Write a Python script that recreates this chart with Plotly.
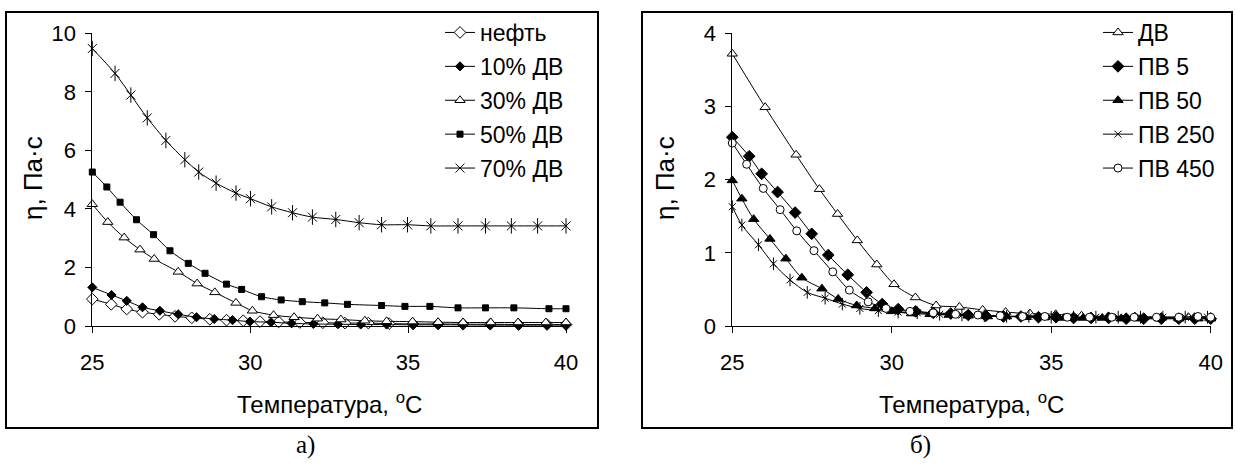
import plotly.graph_objects as go

# ---------------- Chart a) ----------------
oil_t = [25, 25.6, 26.09, 26.59, 27.12, 27.62, 28.15, 28.72, 29.25, 29.78, 30.31, 30.9, 31.57, 32.3, 33.0, 33.74, 34.4, 35.16, 35.95, 36.74, 37.6, 38.5, 39.4, 40]
oil_v = [0.92, 0.74, 0.58, 0.47, 0.40, 0.33, 0.28, 0.23, 0.20, 0.18, 0.15, 0.14, 0.12, 0.11, 0.10, 0.10, 0.08, 0.07, 0.07, 0.06, 0.06, 0.05, 0.05, 0.05]

dv10_t = [25, 25.61, 26.09, 26.59, 27.14, 27.72, 28.3, 28.86, 29.44, 29.99, 30.66, 31.31, 32.0, 32.78, 33.5, 34.32, 35.16, 35.95, 36.74, 37.6, 38.5, 39.4, 40]
dv10_v = [1.32, 1.06, 0.86, 0.64, 0.52, 0.40, 0.30, 0.24, 0.20, 0.15, 0.13, 0.09, 0.07, 0.06, 0.05, 0.05, 0.04, 0.04, 0.04, 0.03, 0.03, 0.03, 0.03]

dv30_t = [25, 25.49, 26.01, 26.51, 26.96, 27.72, 28.32, 28.88, 29.55, 30.07, 30.74, 31.39, 32.13, 32.87, 33.63, 34.32, 35.14, 35.95, 36.74, 37.62, 38.48, 39.36, 40]
dv30_v = [4.16, 3.55, 3.02, 2.61, 2.29, 1.85, 1.45, 1.15, 0.79, 0.52, 0.37, 0.30, 0.25, 0.22, 0.18, 0.16, 0.15, 0.13, 0.12, 0.12, 0.12, 0.12, 0.12]

dv50_t = [25, 25.46, 25.88, 26.4, 26.94, 27.46, 28.04, 28.57, 29.25, 29.73, 30.36, 30.98, 31.65, 32.36, 33.08, 34.16, 34.9, 35.69, 36.58, 37.45, 38.35, 39.46, 40]
dv50_v = [5.26, 4.75, 4.23, 3.63, 3.12, 2.57, 2.14, 1.80, 1.43, 1.25, 1.00, 0.89, 0.83, 0.79, 0.74, 0.70, 0.67, 0.67, 0.62, 0.62, 0.62, 0.59, 0.59]

dv70_t = [25, 25.72, 26.22, 26.74, 27.33, 27.93, 28.37, 28.92, 29.55, 30.01, 30.68, 31.34, 31.97, 32.71, 33.45, 34.16, 34.98, 35.72, 36.58, 37.45, 38.27, 39.1, 40]
dv70_v = [9.48, 8.63, 7.89, 7.11, 6.34, 5.68, 5.26, 4.88, 4.54, 4.35, 4.07, 3.87, 3.72, 3.64, 3.53, 3.46, 3.46, 3.42, 3.42, 3.42, 3.42, 3.42, 3.42]

# ---------------- Chart б) ----------------
dv_t = [25, 26.03, 27.0, 27.73, 28.3, 28.92, 29.53, 30.07, 30.74, 31.39, 32.12, 32.85, 33.57, 34.33, 35.14, 35.95, 36.79, 37.62, 38.46, 39.3, 40]
dv_v = [3.72, 2.99, 2.34, 1.87, 1.53, 1.17, 0.84, 0.57, 0.39, 0.28, 0.26, 0.22, 0.19, 0.17, 0.16, 0.14, 0.13, 0.13, 0.12, 0.12, 0.12]

pv5_t = [25, 25.53, 25.92, 26.42, 26.97, 27.49, 28.01, 28.62, 29.21, 29.7, 30.2, 30.75, 31.3, 31.85, 32.4, 32.95, 33.5, 34.05, 34.6, 35.15, 35.7, 36.25, 36.8, 37.35, 37.9, 38.45, 39.0, 39.5, 40]
pv5_v = [2.58, 2.32, 2.08, 1.83, 1.55, 1.26, 0.97, 0.70, 0.46, 0.30, 0.23, 0.20, 0.18, 0.17, 0.15, 0.14, 0.13, 0.13, 0.12, 0.12, 0.11, 0.11, 0.11, 0.10, 0.10, 0.10, 0.10, 0.10, 0.10]

pv50_t = [25, 25.3, 25.67, 26.18, 26.68, 27.18, 27.81, 28.32, 28.9, 29.47, 30.0, 30.62, 31.2, 31.8, 32.4, 33.0, 33.6, 34.2, 34.8, 35.4, 36.0, 36.6, 37.2, 37.8, 38.4, 39.0, 39.6, 40]
pv50_v = [1.99, 1.74, 1.46, 1.19, 0.92, 0.66, 0.51, 0.37, 0.28, 0.24, 0.20, 0.17, 0.16, 0.15, 0.14, 0.13, 0.13, 0.12, 0.12, 0.11, 0.11, 0.11, 0.10, 0.10, 0.10, 0.10, 0.10, 0.10]

pv250_t = [25, 25.3, 25.82, 26.29, 26.81, 27.35, 27.91, 28.45, 29.0, 29.58, 30.2, 30.8, 31.5, 32.2, 32.9, 33.6, 34.3, 35.0, 35.7, 36.4, 37.1, 37.8, 38.5, 39.2, 39.9]
pv250_v = [1.63, 1.38, 1.11, 0.85, 0.63, 0.46, 0.38, 0.30, 0.24, 0.21, 0.19, 0.18, 0.16, 0.15, 0.14, 0.13, 0.13, 0.12, 0.12, 0.12, 0.12, 0.12, 0.12, 0.12, 0.12]

pv450_t = [25, 25.45, 25.97, 26.5, 27.02, 27.56, 28.15, 28.67, 29.26, 29.82, 30.57, 31.3, 32.0, 32.7, 33.4, 34.1, 34.8, 35.5, 36.2, 36.9, 37.6, 38.3, 39.0, 39.6, 40]
pv450_v = [2.50, 2.21, 1.88, 1.59, 1.30, 1.03, 0.74, 0.49, 0.33, 0.24, 0.20, 0.18, 0.16, 0.15, 0.14, 0.13, 0.13, 0.12, 0.12, 0.12, 0.12, 0.12, 0.12, 0.13, 0.12]

x_ticks = [25, 30, 35, 40]
left_y_ticks = [0, 2, 4, 6, 8, 10]
right_y_ticks = [0, 1, 2, 3, 4]

x_title = "Температура, <sup>o</sup>C"
y_title = "η, Па·с"

W, H = 1235, 468
FONT = "Liberation Sans, Arial, sans-serif"
SERIF = "Liberation Serif, Times New Roman, serif"

def px(x):
    return x / W

def py(y):
    return 1 - y / H

fig = go.Figure()

LINE = dict(color="black", width=1, shape="spline", smoothing=0.8)

def add(t, v, name, symbol, size, fill, xa, ya, legend):
    fig.add_trace(go.Scatter(
        x=t, y=v, name=name, mode="lines+markers", line=LINE,
        marker=dict(symbol=symbol, size=size, color=fill, line=dict(color="black", width=1)),
        xaxis=xa, yaxis=ya, legend=legend, legendgroup=name, cliponaxis=False))

def add_star_bar(t, v, size, xa, ya, group):
    fig.add_trace(go.Scatter(
        x=t, y=v, mode="markers", showlegend=False, legendgroup=group,
        marker=dict(symbol="line-ns-open", size=size, color="black", line=dict(color="black", width=1)),
        xaxis=xa, yaxis=ya, cliponaxis=False, hoverinfo="skip"))

# chart a)
add(oil_t, oil_v, "нефть", "diamond", 9, "white", "x", "y", "legend")
add(dv10_t, dv10_v, "10% ДВ", "diamond", 7, "black", "x", "y", "legend")
add(dv30_t, dv30_v, "30% ДВ", "triangle-up", 9, "white", "x", "y", "legend")
add(dv50_t, dv50_v, "50% ДВ", "square", 6, "black", "x", "y", "legend")
add(dv70_t, dv70_v, "70% ДВ", "x-thin-open", 9, "black", "x", "y", "legend")
add_star_bar(dv70_t, dv70_v, 11, "x", "y", "70% ДВ")

# chart б)
add(dv_t, dv_v, "ДВ", "triangle-up", 9, "white", "x2", "y2", "legend2")
add(pv5_t, pv5_v, "ПВ 5", "diamond", 9, "black", "x2", "y2", "legend2")
add(pv50_t, pv50_v, "ПВ 50", "triangle-up", 9, "black", "x2", "y2", "legend2")
add(pv250_t, pv250_v, "ПВ 250", "x-thin-open", 7, "black", "x2", "y2", "legend2")
add_star_bar(pv250_t, pv250_v, 9, "x2", "y2", "ПВ 250")
add(pv450_t, pv450_v, "ПВ 450", "circle", 8, "white", "x2", "y2", "legend2")

axis_common = dict(showline=True, linecolor="black", linewidth=1, ticks="outside", ticklen=6,
                   tickcolor="black", showgrid=False, zeroline=False, mirror=False, automargin=False,
                   tickfont=dict(family=FONT, size=22, color="black"))

ybot, ytop = py(326), py(33.3)
LEG_FONT = dict(family=FONT, size=23, color="black")

fig.update_layout(
    width=W, height=H, autosize=False,
    margin=dict(l=0, r=0, t=0, b=0, pad=0, autoexpand=False),
    paper_bgcolor="white", plot_bgcolor="white",
    font=dict(family=FONT, color="black"),
    xaxis=dict(domain=[px(92.3), px(566)], range=[25, 40], tickvals=x_ticks, anchor="y",
               ticklabelstandoff=11, **axis_common),
    yaxis=dict(domain=[ybot, ytop], range=[0, 10], tickvals=left_y_ticks, anchor="x",
               ticklabelstandoff=5, **axis_common),
    xaxis2=dict(domain=[px(732.3), px(1210.7)], range=[25, 40], tickvals=x_ticks, anchor="y2",
                ticklabelstandoff=11, **axis_common),
    yaxis2=dict(domain=[ybot, ytop], range=[0, 4], tickvals=right_y_ticks, anchor="x2",
                ticklabelstandoff=5, **axis_common),
    legend=dict(x=px(440), y=py(11), xanchor="left", yanchor="top", bgcolor="rgba(0,0,0,0)",
                font=LEG_FONT, tracegroupgap=1, itemwidth=30),
    legend2=dict(x=px(1098), y=py(11), xanchor="left", yanchor="top", bgcolor="rgba(0,0,0,0)",
                 font=LEG_FONT, tracegroupgap=1, itemwidth=30),
    shapes=[
        dict(type="rect", xref="paper", yref="paper", x0=px(6), x1=px(598), y0=py(428), y1=py(12),
             line=dict(color="black", width=2), fillcolor="rgba(0,0,0,0)"),
        dict(type="rect", xref="paper", yref="paper", x0=px(642), x1=px(1232), y0=py(428), y1=py(12),
             line=dict(color="black", width=2), fillcolor="rgba(0,0,0,0)"),
    ],
    annotations=[
        dict(text=x_title, xref="paper", yref="paper", x=px(329), y=py(403), showarrow=False,
             xanchor="center", yanchor="middle", font=dict(family=FONT, size=24, color="black")),
        dict(text=x_title, xref="paper", yref="paper", x=px(971), y=py(403), showarrow=False,
             xanchor="center", yanchor="middle", font=dict(family=FONT, size=24, color="black")),
        dict(text=y_title, xref="paper", yref="paper", x=px(33), y=py(178), showarrow=False,
             textangle=-90, xanchor="center", yanchor="middle", font=dict(family=FONT, size=26, color="black")),
        dict(text=y_title, xref="paper", yref="paper", x=px(665), y=py(178), showarrow=False,
             textangle=-90, xanchor="center", yanchor="middle", font=dict(family=FONT, size=26, color="black")),
        dict(text="а)", xref="paper", yref="paper", x=px(305), y=py(445), showarrow=False,
             xanchor="center", yanchor="middle", font=dict(family=SERIF, size=25, color="black")),
        dict(text="б)", xref="paper", yref="paper", x=px(920), y=py(445), showarrow=False,
             xanchor="center", yanchor="middle", font=dict(family=SERIF, size=25, color="black")),
    ],
)

# remove the default 8px page margin so the figure sits at the window origin
fig.write_html("out.html", config={"displayModeBar": False},
               post_script="document.body.style.margin='0';")
